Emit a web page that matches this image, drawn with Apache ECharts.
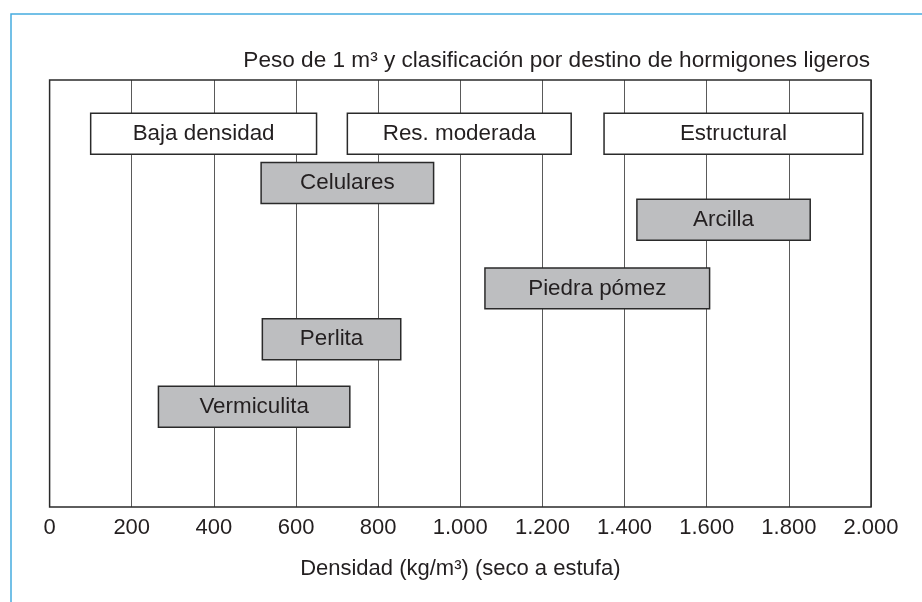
<!DOCTYPE html>
<html>
<head>
<meta charset="utf-8">
<script src="https://cdn.jsdelivr.net/npm/echarts@6/dist/echarts.min.js"></script>
<style>
  html, body { margin: 0; padding: 0; background: #fff; }
  #main { width: 922px; height: 602px; }
</style>
</head>
<body>
<div id="main"></div>
<script>
// clasificación por destino (cajas blancas) y tipos de árido (cajas grises)
const names = ["Baja densidad", "Res. moderada", "Estructural", "Celulares", "Arcilla", "Piedra pómez", "Perlita", "Vermiculita"];
const densMin = [100, 725, 1350, 515, 1430, 1060, 518, 265];
const densMax = [650, 1270, 1980, 935, 1852, 1607, 855, 731];
// fila en la que va cada caja (0 = arriba, 10 = abajo)
const rowLevel = [1.26, 1.26, 1.26, 2.41, 3.27, 4.88, 6.07, 7.65];
const isClass = [true, true, true, false, false, false, false, false];
const xTicks = [0, 200, 400, 600, 800, 1000, 1200, 1400, 1600, 1800, 2000];

const FONT = "'Liberation Sans', Arial, Helvetica, sans-serif";
const TXT = "#231f20";

const data = names.map((n, i) => [densMin[i], densMax[i], rowLevel[i], n, isClass[i] ? 1 : 0]);

function renderBox(params, api) {
  const x0 = api.value(0), x1 = api.value(1), row = api.value(2);
  const p0 = api.coord([x0, row - 0.48]);
  const p1 = api.coord([x1, row + 0.48]);
  const white = api.value(4) === 1;
  return {
    type: "rect",
    shape: { x: p0[0], y: p0[1], width: p1[0] - p0[0], height: p1[1] - p0[1] },
    style: {
      fill: white ? "#ffffff" : "#bdbec0",
      stroke: "#2a2a2a",
      lineWidth: 1.5
    },
    textContent: {
      style: {
        text: names[params.dataIndex],
        font: "22.4px " + FONT,
        fill: TXT
      }
    },
    textConfig: { position: "inside" }
  };
}

const chart = echarts.init(document.getElementById("main"));
chart.setOption({
  animation: false,
  title: {
    text: "Peso de 1 m³ y clasificación por destino de hormigones ligeros",
    right: 47,
    top: 44,
    textStyle: { fontFamily: FONT, fontSize: 22.6, fontWeight: "normal", color: TXT }
  },
  graphic: [
    {
      type: "polyline",
      shape: { points: [[11, 602], [11, 14], [922, 14]] },
      style: { stroke: "#45ace0", lineWidth: 1.5, fill: null }
    }
  ],
  grid: {
    left: 49.6,
    right: 51,
    top: 80,
    bottom: 95,
    show: true,
    borderColor: "#2a2a2a",
    borderWidth: 1.5,
    z: 5
  },
  xAxis: {
    type: "value",
    min: 0,
    max: 2000,
    interval: 200,
    axisLine: { show: false },
    axisTick: { show: false },
    splitLine: { show: true, lineStyle: { color: "#5a5a5a", width: 1 } },
    axisLabel: {
      fontFamily: FONT,
      fontSize: 22,
      color: TXT,
      margin: 10,
      formatter: v => xTicks.includes(v) ? (v >= 1000 ? Math.floor(v / 1000) + "." + String(v % 1000).padStart(3, "0") : String(v)) : ""
    },
    name: "Densidad (kg/m³) (seco a estufa)",
    nameLocation: "middle",
    nameGap: 51,
    nameTextStyle: { fontFamily: FONT, fontSize: 22, color: TXT }
  },
  yAxis: {
    type: "value",
    min: 0,
    max: 10,
    inverse: true,
    show: false,
    splitLine: { show: false }
  },
  series: [
    {
      type: "custom",
      renderItem: renderBox,
      encode: { x: [0, 1], y: 2 },
      data: data,
      z: 3
    }
  ]
});
</script>
</body>
</html>
